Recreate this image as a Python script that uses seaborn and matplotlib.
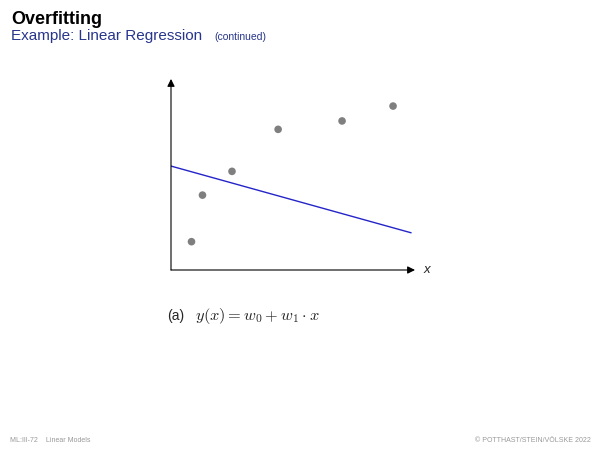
import pandas as pd
import matplotlib.pyplot as plt
import seaborn as sns

sns.set_theme(style="white")
plt.rcParams['font.family'] = ['Liberation Sans', 'DejaVu Sans']
plt.rcParams['mathtext.fontset'] = 'cm'

# data points (arbitrary units)
x_points = [0.84, 1.29, 2.5, 4.39, 7.01, 9.1]
y_points = [1.18, 3.12, 4.11, 5.86, 6.21, 6.83]

# fitted line y = w0 + w1 * x, drawn between its two ends
x_line = [0.0, 9.84]
y_line = [4.33, 1.55]

pts = pd.DataFrame({"x": x_points, "y": y_points})
fit = pd.DataFrame({"x": x_line, "y": y_line})

fig = plt.figure(figsize=(6, 4.5), dpi=100)
ax = fig.add_axes([0.285, 0.4, 0.4067, 0.4267])

sns.lineplot(data=fit, x="x", y="y", ax=ax, color="#2424c8", linewidth=1.0)
sns.scatterplot(data=pts, x="x", y="y", ax=ax, color="#7f7f7f", s=30,
                edgecolor="none", zorder=3)

ax.set_xlim(0, 10)
ax.set_ylim(0, 8)
ax.set_xticks([])
ax.set_yticks([])
ax.set_xlabel("")
ax.set_ylabel("")
for s in ax.spines.values():
    s.set_visible(False)

# axis arrows
arrow = dict(arrowstyle="-|>", color="black", lw=0.8, mutation_scale=11,
             shrinkA=0, shrinkB=0)
ax.annotate("", xy=(1.0, 0), xytext=(0, 0), xycoords="axes fraction",
            arrowprops=arrow, annotation_clip=False)
ax.annotate("", xy=(0, 0.995), xytext=(0, 0), xycoords="axes fraction",
            arrowprops=arrow, annotation_clip=False)
ax.text(1.035, 0, "x", transform=ax.transAxes, fontsize=9.5, style="italic",
        ha="left", va="center")

# slide header
fig.text(0.019, 0.947, "Overfitting", fontsize=13, fontweight="bold",
         color="black", ha="left", va="baseline")
fig.text(0.019, 0.912, "Example: Linear Regression", fontsize=11,
         color="#27358c", ha="left", va="baseline")
fig.text(0.357, 0.912, "(continued)", fontsize=7.5, color="#27358c",
         ha="left", va="baseline")

# caption
fig.text(0.278, 0.289, "(a)", fontsize=10, ha="left", va="baseline")
fig.text(0.325, 0.289, r"$y(x) = w_0 + w_1 \cdot x$", fontsize=11.8,
         ha="left", va="baseline")

# footer
fig.text(0.017, 0.018, "ML:III-72    Linear Models", fontsize=5,
         color="#999999", ha="left", va="baseline")
fig.text(0.985, 0.018, "© POTTHAST/STEIN/VÖLSKE 2022", fontsize=5,
         color="#999999", ha="right", va="baseline")

plt.savefig("out.png", dpi=100)
plt.close()
